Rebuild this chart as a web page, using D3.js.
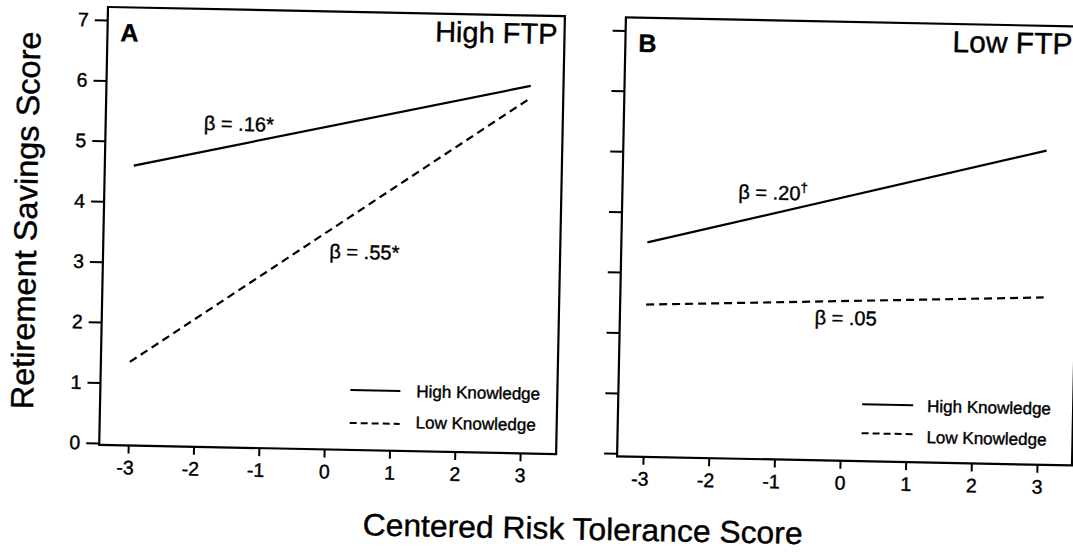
<!DOCTYPE html>
<html>
<head>
<meta charset="utf-8">
<script src="https://cdn.jsdelivr.net/npm/d3@7"></script>
<style>
  body { margin: 0; background: #fff; }
  svg { display: block; font-family: "Liberation Sans", Arial, sans-serif; }
  svg text { stroke: #000; stroke-width: 0.4px; }
</style>
</head>
<body>
<div id="chart"></div>
<script>
// values
var xTicks = [-3, -2, -1, 0, 1, 2, 3]
var yTicks = [0, 1, 2, 3, 4, 5, 6, 7]
var xEnds = [-3, 3.05]

var panelLetters = ['A', 'B']
var panelTitles = ['High FTP', 'Low FTP']
var seriesNames = ['High Knowledge', 'Low Knowledge']

var highKnowledgeA = [4.6, 6.05]
var lowKnowledgeA = [1.35, 5.85]
var highKnowledgeB = [3.5, 5.15]
var lowKnowledgeB = [2.47, 2.72]

var betaA = ['β = .16*', 'β = .55*']
var betaB = ['β = .20', 'β = .05']
var betaMarkB = ['†', '']

var width = 1073
var height = 552

var svg = d3.select('#chart').append('svg')
  .attr('width', width)
  .attr('height', height)

// the scan is a little tilted, so the whole figure is turned a bit
var fig = svg.append('g')
  .attr('transform', 'rotate(1.15,108,7)')

var panels = [
  { left: 108, right: 565, top: 7, bottom: 445, xr: [137, 529], labels: true,
    high: highKnowledgeA, low: lowKnowledgeA, beta: betaA, mark: ['', ''],
    betaPos: [[-1.94, 5.21], [0.02, 3.13]],
    titleX: 558, titleAnchor: 'end',
    legend: { x1: 358, x2: 408, tx: 424, y: [385, 418], ty: [391, 422] } },
  { left: 626, right: 1081, top: 7, bottom: 446, xr: [652, 1046], labels: false,
    high: highKnowledgeB, low: lowKnowledgeB, beta: betaB, mark: betaMarkB,
    betaPos: [[-1.63, 4.25], [-0.43, 2.2]],
    titleX: 953, titleAnchor: 'start',
    legend: { x1: 870, x2: 921, tx: 935, y: [389, 418], ty: [395.5, 426.5] } }
]

var dash = '8,5'

panels.forEach(function (p, i) {
  var x = d3.scaleLinear().domain([-3, 3]).range(p.xr)
  var y = d3.scaleLinear().domain([0, 7]).range([443, 20])
  var g = fig.append('g')

  // frame
  g.append('rect')
    .attr('x', p.left).attr('y', p.top)
    .attr('width', p.right - p.left).attr('height', p.bottom - p.top)
    .attr('fill', 'none').attr('stroke', '#000').attr('stroke-width', 2.2)

  var xAxis = g.append('g')
    .attr('transform', 'translate(0,' + p.bottom + ')')
    .call(d3.axisBottom(x).tickValues(xTicks).tickSize(8).tickPadding(7)
      .tickFormat(function (d) { return String(d) }))
  xAxis.select('.domain').remove()
  xAxis.selectAll('line').attr('stroke-width', 2)
  xAxis.selectAll('text')
    .attr('font-size', 19.5).attr('fill', '#000')
    .attr('font-family', '"Liberation Sans", Arial, sans-serif')
    // digit sits on the tick, the minus hangs to the left
    .attr('text-anchor', function (d) { return d < 0 ? 'end' : 'middle' })
    .attr('dx', function (d) { return d < 0 ? 5.4 : 0 })

  var yAxis = g.append('g')
    .attr('transform', 'translate(' + p.left + ',0)')
    .call(d3.axisLeft(y).tickValues(yTicks).tickSize(13).tickPadding(6)
      .tickFormat(p.labels ? d3.format('d') : function () { return '' }))
  yAxis.select('.domain').remove()
  yAxis.selectAll('line').attr('stroke-width', 2)
  yAxis.selectAll('text')
    .attr('font-size', 19.5).attr('fill', '#000')
    .attr('font-family', '"Liberation Sans", Arial, sans-serif')

  var line = d3.line()
    .x(function (d) { return x(d[0]) })
    .y(function (d) { return y(d[1]) })

  g.append('path')
    .datum(xEnds.map(function (v, k) { return [v, p.high[k]] }))
    .attr('d', line)
    .attr('fill', 'none').attr('stroke', '#000').attr('stroke-width', 2.2)

  g.append('path')
    .datum(xEnds.map(function (v, k) { return [v, p.low[k]] }))
    .attr('d', line)
    .attr('fill', 'none').attr('stroke', '#000').attr('stroke-width', 2.2)
    .attr('stroke-dasharray', dash)

  // beta labels
  p.beta.forEach(function (b, k) {
    var t = g.append('text')
      .attr('x', x(p.betaPos[k][0])).attr('y', y(p.betaPos[k][1]))
      .attr('font-size', 20).attr('fill', '#000')
      .text(b)
    if (p.mark[k]) {
      t.append('tspan').attr('font-size', 13).attr('dy', -8).text(p.mark[k])
    }
  })

  // letter and panel title
  g.append('text')
    .attr('x', i === 0 ? 121 : 639).attr('y', 41)
    .attr('font-size', 25).attr('font-weight', 'bold')
    .text(panelLetters[i])

  g.append('text')
    .attr('x', p.titleX).attr('y', 35)
    .attr('text-anchor', p.titleAnchor)
    .attr('font-size', i === 0 ? 29 : 30)
    .text(panelTitles[i])

  // legend
  seriesNames.forEach(function (name, k) {
    g.append('line')
      .attr('x1', p.legend.x1).attr('x2', p.legend.x2)
      .attr('y1', p.legend.y[k]).attr('y2', p.legend.y[k])
      .attr('stroke', '#000').attr('stroke-width', 2)
      .attr('stroke-dasharray', k === 1 ? '7,4' : null)
    g.append('text')
      .attr('x', p.legend.tx).attr('y', p.legend.ty[k])
      .attr('font-size', 17)
      .text(name)
  })
})

// axis titles
fig.append('text')
  .attr('transform', 'translate(41,222) rotate(-90)')
  .attr('text-anchor', 'middle')
  .attr('font-size', 32)
  .attr('textLength', 378)
  .attr('lengthAdjust', 'spacingAndGlyphs')
  .text('Retirement Savings Score')

fig.append('text')
  .attr('x', 593).attr('y', 530)
  .attr('text-anchor', 'middle')
  .attr('font-size', 31)
  .attr('textLength', 440)
  .attr('lengthAdjust', 'spacingAndGlyphs')
  .text('Centered Risk Tolerance Score')
</script>
</body>
</html>
